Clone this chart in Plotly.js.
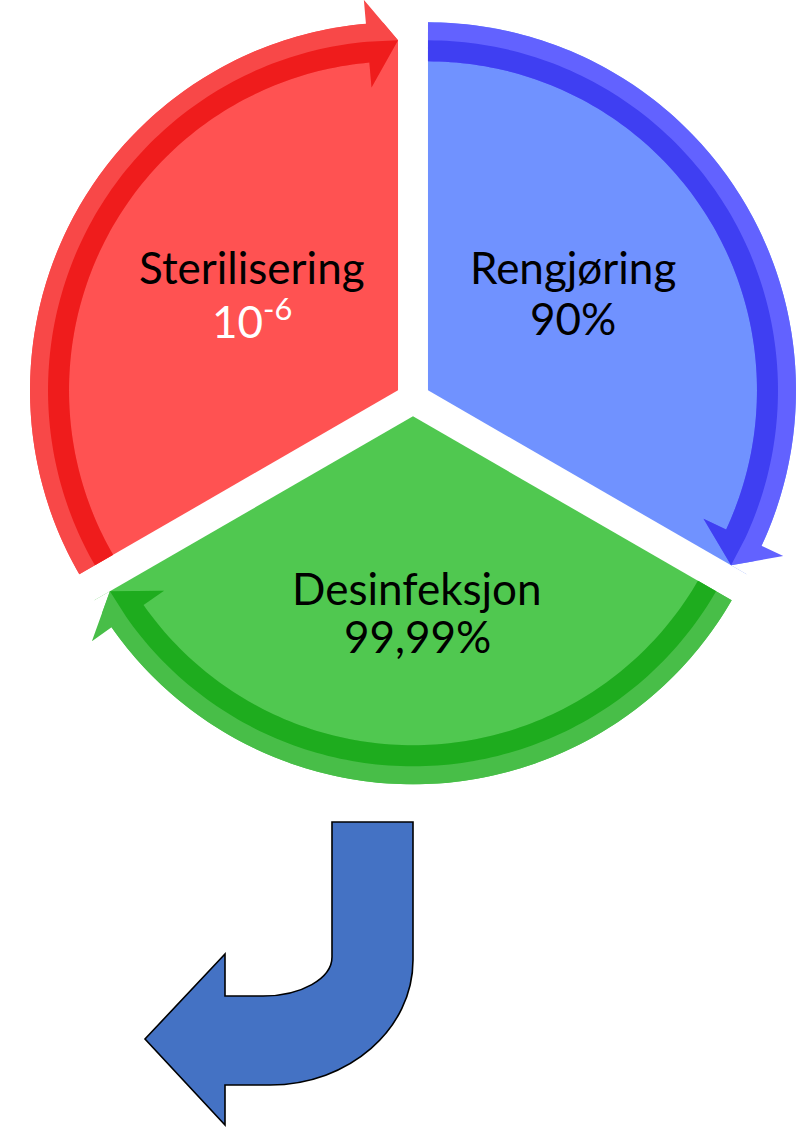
<!DOCTYPE html>
<html>
<head>
<meta charset="utf-8">
<script src="https://cdn.plot.ly/plotly-3.0.1.min.js"></script>
<style>
  html, body { margin: 0; padding: 0; background: #ffffff; }
  #chart { width: 805px; height: 1128px; }
</style>
</head>
<body>
<div id="chart"></div>
<script>
// ---- data ----
const categories = ['Rengjøring', 'Desinfeksjon', 'Sterilisering'];
const reductionLabels = ['90%', '99,99%', '10<sup>-6</sup>'];
const sliceValues = [1, 1, 1];

// ---- styling ----
const sliceColors = ['#7092FF', '#50C850', '#FF5252'];
const arrowOuterColors = ['#6262FF', '#48BE48', '#F84848'];
const arrowDarkColors = ['#3F3FF2', '#1EAC1E', '#EF1C1C'];
const valueColors = ['#000000', '#000000', '#FFFFFF'];

const W = 805, H = 1128;
const center = [413, 399];      // pie centre, px
const R = 368;                  // pie radius, px
const pull = 0.047;             // slice pull (fraction of radius)

// label placement (px): centre x, first-line y, second-line y
const labelPos = [
  { x: 573, y1: 267, y2: 318 },
  { x: 417, y1: 588, y2: 636 },
  { x: 252, y1: 267, y2: 318 }
];

// ---- helpers ----
const S = 2 * R * (1 + pull);
const domX = [(center[0] - S / 2) / W, (center[0] + S / 2) / W];
const domY = [(H - center[1] - S / 2) / H, (H - center[1] + S / 2) / H];

function pt(c, r, deg) {
  const t = deg * Math.PI / 180;
  return [c[0] + r * Math.sin(t), c[1] - r * Math.cos(t)];
}
function arc(c, r, a, b) {
  const n = Math.max(2, Math.ceil(Math.abs(b - a)));
  const out = [];
  for (let i = 0; i <= n; i++) out.push(pt(c, r, a + (b - a) * i / n));
  return out;
}
function toPath(points) {
  return 'M ' + points.map(p => (p[0] / W).toFixed(5) + ',' + (1 - p[1] / H).toFixed(5)).join(' L ') + ' Z';
}
function px(x, y) { return (x / W).toFixed(5) + ',' + (1 - y / H).toFixed(5); }

// ---- decorative circular arrows along each slice ----
const total = sliceValues.reduce((a, b) => a + b, 0);
const shapes = [];
let acc = 0;
const ri = 329, rm = 350, ro = R, rw1 = 304, rw2 = 392, headDeg = 5;
sliceValues.forEach((v, i) => {
  const a0 = acc / total * 360;
  const a1 = (acc + v) / total * 360;
  acc += v;
  const mid = (a0 + a1) / 2;
  const ci = pt(center, pull * R, mid);
  const ab = a1 - headDeg;
  // trim the slice corner beyond the arrow head
  shapes.push({
    type: 'path', xref: 'paper', yref: 'paper', layer: 'above',
    path: toPath([pt(ci, rm, a1), pt(ci, 430, a1), pt(ci, 430, ab - 1), pt(ci, rw2, ab)]),
    fillcolor: '#ffffff', line: { width: 0 }
  });
  const outer = arc(ci, ro, a0, ab)
    .concat([pt(ci, rw2, ab), pt(ci, rm, a1), pt(ci, rw1, ab)])
    .concat(arc(ci, ri, ab, a0));
  shapes.push({
    type: 'path', xref: 'paper', yref: 'paper', layer: 'above',
    path: toPath(outer), fillcolor: arrowOuterColors[i], line: { width: 0 }
  });
  const dark = arc(ci, rm, a0, ab)
    .concat([pt(ci, rm, a1), pt(ci, rw1, ab)])
    .concat(arc(ci, ri, ab, a0));
  shapes.push({
    type: 'path', xref: 'paper', yref: 'paper', layer: 'above',
    path: toPath(dark), fillcolor: arrowDarkColors[i], line: { width: 0 }
  });
});

// ---- bent arrow below the cycle ----
const k = 0.5523;
const bent = 'M ' + px(332, 822) + ' L ' + px(413, 822) + ' L ' + px(413, 960) +
  ' C ' + px(413, 960 + k * 125) + ' ' + px(270 + k * 143, 1085) + ' ' + px(270, 1085) +
  ' L ' + px(225, 1085) + ' L ' + px(225, 1125) + ' L ' + px(145, 1039) +
  ' L ' + px(225, 954) + ' L ' + px(225, 996) + ' L ' + px(263, 996) +
  ' C ' + px(263 + k * 69, 996) + ' ' + px(332, 957 + k * 39) + ' ' + px(332, 957) + ' Z';
shapes.push({
  type: 'path', xref: 'paper', yref: 'paper', layer: 'above',
  path: bent, fillcolor: '#4472C4', line: { color: '#000000', width: 1.6 }
});

// ---- labels ----
const font = 'Lato, "Open Sans", sans-serif';
const fsize = 44;
const annotations = [];
categories.forEach((c, i) => {
  annotations.push({
    xref: 'paper', yref: 'paper', x: labelPos[i].x / W, y: 1 - labelPos[i].y1 / H,
    xanchor: 'center', yanchor: 'middle', showarrow: false, text: c,
    font: { family: font, size: fsize, color: '#000000' }
  });
  annotations.push({
    xref: 'paper', yref: 'paper', x: labelPos[i].x / W, y: 1 - labelPos[i].y2 / H,
    xanchor: 'center', yanchor: 'middle', showarrow: false, text: reductionLabels[i],
    font: { family: font, size: fsize, color: valueColors[i] }
  });
});

const data = [{
  type: 'pie',
  labels: categories,
  values: sliceValues,
  sort: false,
  direction: 'clockwise',
  rotation: 0,
  pull: pull,
  hole: 0,
  domain: { x: domX, y: domY },
  marker: { colors: sliceColors, line: { width: 0 } },
  textinfo: 'none',
  hoverinfo: 'none',
  showlegend: false
}];

const layout = {
  width: W, height: H,
  margin: { l: 0, r: 0, t: 0, b: 0 },
  paper_bgcolor: '#ffffff',
  plot_bgcolor: '#ffffff',
  showlegend: false,
  shapes: shapes,
  annotations: annotations
};

Plotly.newPlot('chart', data, layout, { displayModeBar: false, staticPlot: true });
</script>
</body>
</html>
